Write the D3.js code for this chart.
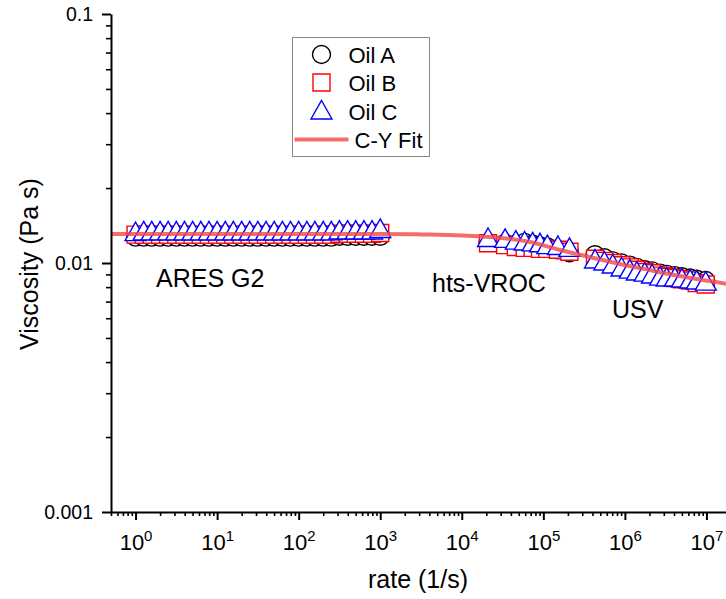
<!DOCTYPE html>
<html>
<head>
<meta charset="utf-8">
<script src="https://cdn.jsdelivr.net/npm/d3@7"></script>
<style>
body { margin: 0; background: #fff; }
text { font-family: "Liberation Sans", Arial, sans-serif; fill: #000; }
</style>
</head>
<body>
<script>
// Canvas size and plot box
var width = 726, height = 599
var margin = {top: 14, left: 111, bottom: 512}

// Shear rates (1/s) for the three instruments
var aresRate = [1, 1.26, 1.58, 2, 2.51, 3.16, 3.98, 5.01, 6.31, 7.94,
  10, 12.6, 15.8, 20, 25.1, 31.6, 39.8, 50.1, 63.1, 79.4,
  100, 126, 158, 200, 251, 316, 398, 501, 631, 794, 1000]
var htsRate = [2.1e4, 3.4e4, 4.6e4, 5.9e4, 7.4e4, 9.1e4, 1.12e5, 1.51e5, 2.09e5]
var usvRate = [4.3e5, 5.6e5, 7.1e5, 9.1e5, 1.15e6, 1.4e6, 1.75e6, 2.15e6,
  2.7e6, 3.25e6, 4.1e6, 5e6, 6.3e6, 7.6e6, 9.8e6]

// Viscosity (Pa s), Oil A
var oilAAres = [0.0127, 0.0127, 0.0127, 0.0127, 0.0127, 0.0127, 0.0127, 0.0127, 0.0127, 0.0127,
  0.0127, 0.0127, 0.0127, 0.0127, 0.0127, 0.0127, 0.0127, 0.0127, 0.0127, 0.0127,
  0.0127, 0.0127, 0.0127, 0.0127, 0.0127, 0.0128, 0.0128, 0.0128, 0.0128, 0.0128, 0.0128]
var oilAHts = [0.0121, 0.0120, 0.0119, 0.0121, 0.0119, 0.0117, 0.0116, 0.0113, 0.0110]
var oilAUsv = [0.0108, 0.0105, 0.0102, 0.0100, 0.0098, 0.0096, 0.0094, 0.0093,
  0.0091, 0.0090, 0.0089, 0.0088, 0.0087, 0.0086, 0.0085]

// Viscosity (Pa s), Oil B
var oilBAres = [0.0130, 0.0130, 0.0130, 0.0130, 0.0130, 0.0130, 0.0130, 0.0130, 0.0130, 0.0130,
  0.0130, 0.0130, 0.0130, 0.0130, 0.0130, 0.0130, 0.0130, 0.0130, 0.0130, 0.0130,
  0.0130, 0.0130, 0.0130, 0.0130, 0.0130, 0.0131, 0.0131, 0.0131, 0.0131, 0.0131, 0.0132]
var oilBHts = [0.0120, 0.0118, 0.0116, 0.0115, 0.0115, 0.0114, 0.0114, 0.0113, 0.0111]
var oilBUsv = [0.0104, 0.0102, 0.0100, 0.0098, 0.0096, 0.0094, 0.0092, 0.0091,
  0.0089, 0.0088, 0.0087, 0.0086, 0.0085, 0.0083, 0.0082]

// Viscosity (Pa s), Oil C
var oilCAres = [0.0133, 0.0134, 0.0134, 0.0134, 0.0134, 0.0134, 0.0134, 0.0134, 0.0134, 0.0134,
  0.0134, 0.0134, 0.0134, 0.0134, 0.0134, 0.0134, 0.0134, 0.0134, 0.0134, 0.0134,
  0.0134, 0.0134, 0.0134, 0.0134, 0.0134, 0.0135, 0.0135, 0.0135, 0.0135, 0.0135, 0.0137]
var oilCHts = [0.0126, 0.0125, 0.0123, 0.0122, 0.0121, 0.0120, 0.0118, 0.0117, 0.0115]
var oilCUsv = [0.01033, 0.01014, 0.00986, 0.00959, 0.00941, 0.00924, 0.00915, 0.00899,
  0.00882, 0.00874, 0.00874, 0.00866, 0.00858, 0.00850, 0.00842]

// Carreau-Yasuda fit
var fitRate = [0.5, 1e3, 3.1e3, 1e4, 3e4, 6.9e4, 1.6e5, 3.7e5, 8.7e5, 2e6, 4.7e6, 1.1e7, 2e7]
var fitVisc = [0.01309, 0.01309, 0.01303, 0.01291, 0.01261, 0.01215, 0.01128, 0.01057,
  0.00991, 0.00937, 0.00886, 0.00846, 0.0082]

// Ticks and labels
var xTicks = [1, 10, 100, 1e3, 1e4, 1e5, 1e6, 1e7]
var yTicks = [0.001, 0.01, 0.1]
var yTickLabels = ["0.001", "0.01", "0.1"]
var seriesNames = ["Oil A", "Oil B", "Oil C", "C-Y Fit"]
var regionNames = ["ARES G2", "hts-VROC", "USV"]

// Scales
var x = d3.scaleLog().domain([0.5, 2e7]).range([margin.left, 731])
var y = d3.scaleLog().domain([0.001, 0.1]).range([margin.bottom, margin.top])

var svg = d3.select("body")
  .append("svg")
    .attr("width", width)
    .attr("height", height)

// Marker shapes
var circlePath = d3.symbol().type(d3.symbolCircle).size(Math.PI * 81)()
var squarePath = "M-8.5,-8.5H8.5V8.5H-8.5Z"
var trianglePath = "M0,-10L10.5,8.5L-10.5,8.5Z"

function zip(rates, visc) {
  return rates.map((r, i) => ({rate: r, visc: visc[i]}))
}

var oils = [
  {shape: circlePath, color: "#000000",
   values: zip(aresRate, oilAAres).concat(zip(htsRate, oilAHts), zip(usvRate, oilAUsv))},
  {shape: squarePath, color: "#ff0000",
   values: zip(aresRate, oilBAres).concat(zip(htsRate, oilBHts), zip(usvRate, oilBUsv))},
  {shape: trianglePath, color: "#0000ff",
   values: zip(aresRate, oilCAres).concat(zip(htsRate, oilCHts), zip(usvRate, oilCUsv))}
]

// Data markers
oils.forEach(function(oil) {
  svg.append("g")
    .selectAll("path")
    .data(oil.values)
    .enter().append("path")
      .attr("d", oil.shape)
      .attr("transform", d => "translate(" + x(d.rate) + "," + y(d.visc) + ")")
      .attr("fill", "#fff")
      .attr("stroke", oil.color)
      .attr("stroke-width", 1.4)
})

// Fit line on top
var fitLine = d3.line()
  .x(d => x(d.rate))
  .y(d => y(d.visc))
  .curve(d3.curveMonotoneX)

svg.append("path")
  .datum(zip(fitRate, fitVisc))
  .attr("d", fitLine)
  .attr("fill", "none")
  .attr("stroke", "#f04848")
  .attr("stroke-opacity", 0.8)
  .attr("stroke-width", 4)

// X axis, minor then major ticks
var xMinor = x.ticks().filter(d => xTicks.indexOf(d) < 0)
svg.append("g")
  .attr("transform", "translate(0," + margin.bottom + ")")
  .call(d3.axisBottom(x).tickValues(xMinor).tickSize(4).tickSizeOuter(0).tickFormat(""))
  .call(g => g.select(".domain").remove())
  .selectAll("line").attr("stroke-width", 1.6)

var xAxisG = svg.append("g")
  .attr("transform", "translate(0," + margin.bottom + ")")
  .call(d3.axisBottom(x).tickValues(xTicks).tickSize(8).tickSizeOuter(0).tickPadding(14))

xAxisG.select(".domain").attr("stroke-width", 2)
xAxisG.selectAll("line").attr("stroke-width", 2)
xAxisG.selectAll(".tick text")
  .attr("font-size", "22px")
  .style("font-family", "'Liberation Sans Narrow', 'Liberation Sans', Arial, sans-serif")
  .each(function(d) {
    var t = d3.select(this).text("")
    t.append("tspan").text("10")
    t.append("tspan").attr("dy", "-0.55em").attr("font-size", "15px")
      .text(Math.round(Math.log10(d)))
  })

// Y axis, minor then major ticks
var yMinor = y.ticks().filter(d => yTicks.indexOf(d) < 0)
svg.append("g")
  .attr("transform", "translate(" + margin.left + ",0)")
  .call(d3.axisLeft(y).tickValues(yMinor).tickSize(5).tickSizeOuter(0).tickFormat(""))
  .call(g => g.select(".domain").remove())
  .selectAll("line").attr("stroke-width", 1.6)

var yAxisG = svg.append("g")
  .attr("transform", "translate(" + margin.left + ",0)")
  .call(d3.axisLeft(y).tickValues(yTicks).tickSize(9).tickSizeOuter(0).tickPadding(9)
    .tickFormat((d, i) => yTickLabels[i]))

yAxisG.select(".domain").attr("stroke-width", 2)
yAxisG.selectAll("line").attr("stroke-width", 2)
yAxisG.selectAll(".tick text").attr("font-size", "19.5px")

// Axis titles
svg.append("text")
  .attr("x", 418)
  .attr("y", 588)
  .attr("text-anchor", "middle")
  .attr("font-size", "25px")
  .text("rate (1/s)")

svg.append("text")
  .attr("transform", "translate(38,264) rotate(-90)")
  .attr("text-anchor", "middle")
  .attr("font-size", "25px")
  .text("Viscosity (Pa s)")

// Instrument labels
var regionPos = [[156, 287], [432, 292], [612, 318]]
svg.selectAll(".region")
  .data(regionNames)
  .enter().append("text")
    .attr("class", "region")
    .attr("x", (d, i) => regionPos[i][0])
    .attr("y", (d, i) => regionPos[i][1])
    .attr("font-size", "25px")
    .text(d => d)

// Legend
var legend = svg.append("g").attr("transform", "translate(292.5,37.5)")
legend.append("rect")
  .attr("width", 137)
  .attr("height", 119)
  .attr("fill", "#fff")
  .attr("stroke", "#888")
  .attr("stroke-width", 1)

var legendShapes = [circlePath, squarePath, trianglePath]
var legendColors = ["#000000", "#ff0000", "#0000ff"]
legendShapes.forEach(function(s, i) {
  legend.append("path")
    .attr("d", s)
    .attr("transform", "translate(29," + (17 + i * 28) + ")")
    .attr("fill", "#fff")
    .attr("stroke", legendColors[i])
    .attr("stroke-width", 1.4)
})
legend.append("line")
  .attr("x1", 2).attr("x2", 56)
  .attr("y1", 102).attr("y2", 102)
  .attr("stroke", "#f04848")
  .attr("stroke-opacity", 0.8)
  .attr("stroke-width", 4)

legend.selectAll(".lab")
  .data(seriesNames)
  .enter().append("text")
    .attr("class", "lab")
    .attr("x", (d, i) => i < 3 ? 56 : 62)
    .attr("y", (d, i) => 25 + i * 28.5)
    .attr("font-size", "22px")
    .text(d => d)
</script>
</body>
</html>
